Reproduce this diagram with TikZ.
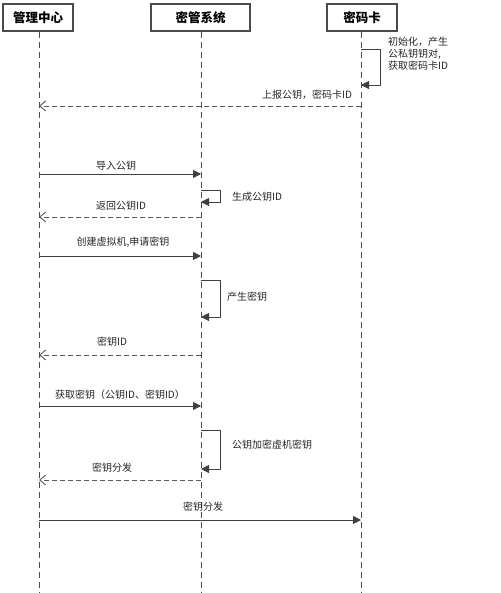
\documentclass[tikz,border=0pt]{standalone}
\usepackage{fontspec}
\setmainfont{Noto Sans CJK SC}
\usetikzlibrary{arrows.meta}
\begin{document}
\begin{tikzpicture}[x=1pt,y=-1pt,
  actor/.style={draw=black!70,line width=1.2pt,minimum height=27pt,inner sep=0pt,font=\fontsize{12.5}{14}\selectfont\bfseries},
  life/.style={draw=black!70,line width=0.9pt,dash pattern=on 6pt off 4pt},
  sync/.style={draw=black!75,line width=0.9pt,-{Triangle[length=8pt,width=8pt]}},
  reply/.style={draw=black!65,line width=0.9pt,dash pattern=on 5pt off 3pt,-{Straight Barb[length=6pt,width=10pt]}},
  lbl/.style={font=\fontsize{10}{12}\selectfont,text=black!85,inner sep=0pt},
  selfmsg/.style={draw=black!75,line width=0.9pt,-{Triangle[length=8pt,width=8pt]}}]
\useasboundingbox (0,0) rectangle (500,593);
\fill[white] (0,0) rectangle (500,593);
% actors
\node[actor,minimum width=70pt] (A) at (38,17.5) {管理中心};
\node[actor,minimum width=99pt] (B) at (200.5,17.5) {密管系统};
\node[actor,minimum width=70pt] (C) at (362,17.5) {密码卡};
\coordinate (Aend) at (39,593);
\coordinate (Bend) at (201,593);
\coordinate (Cend) at (361,593);
\draw[life] (A.south -| Aend) -- (Aend);
\draw[life] (B.south -| Bend) -- (Bend);
\draw[life] (C.south -| Cend) -- (Cend);
% self message on card
\coordinate (c1) at (361,49);
\coordinate (c2) at (361,85);
\draw[selfmsg] (c1) -- (380,49) -- (380,85) -- (c2);
\node[lbl,anchor=north west,align=left] (t1) at (388,37) {初始化，产生\\公私钥钥对,\\获取密码卡ID};
% report
\coordinate (r1) at (361,106);
\coordinate (r2) at (39,106);
\draw[reply] (r1) -- (r2);
\node[lbl] (t2) at (307,95) {上报公钥，密码卡ID};
% import
\coordinate (i1) at (39,174);
\coordinate (i2) at (201,174);
\draw[sync] (i1) -- (i2);
\node[lbl] (t3) at (116,166) {导入公钥};
% generate pubkey id
\coordinate (g1) at (201,190);
\coordinate (g2) at (201,202);
\draw[selfmsg] (g1) -- (220,190) -- (220,202) -- (g2);
\node[lbl,anchor=west] (t4) at (232,197) {生成公钥ID};
% return
\coordinate (re1) at (201,217);
\coordinate (re2) at (39,217);
\draw[reply] (re1) -- (re2);
\node[lbl] (t5) at (121,206) {返回公钥ID};
% create vm
\coordinate (v1) at (39,256);
\coordinate (v2) at (201,256);
\draw[sync] (v1) -- (v2);
\node[lbl] (t6) at (123,242) {创建虚拟机,申请密钥};
% generate key
\coordinate (k1) at (201,280);
\coordinate (k2) at (201,317);
\draw[selfmsg] (k1) -- (220,280) -- (220,317) -- (k2);
\node[lbl,anchor=west] (t7) at (227,297) {产生密钥};
% key id
\coordinate (d1) at (201,355);
\coordinate (d2) at (39,355);
\draw[reply] (d1) -- (d2);
\node[lbl] (t8) at (112,342) {密钥ID};
% get key
\coordinate (h1) at (39,406);
\coordinate (h2) at (201,406);
\draw[sync] (h1) -- (h2);
\node[lbl] (t9) at (120,395) {获取密钥（公钥ID、密钥ID）};
% encrypt
\coordinate (e1) at (201,430);
\coordinate (e2) at (201,469);
\draw[selfmsg] (e1) -- (220,430) -- (220,469) -- (e2);
\node[lbl,anchor=west] (t10) at (232,445) {公钥加密虚机密钥};
% distribute reply
\coordinate (f1) at (201,480);
\coordinate (f2) at (39,480);
\draw[reply] (f1) -- (f2);
\node[lbl] (t11) at (112,468) {密钥分发};
% distribute to card
\coordinate (s1) at (39,520);
\coordinate (s2) at (361,520);
\draw[sync] (s1) -- (s2);
\node[lbl] (t12) at (203,507) {密钥分发};
\end{tikzpicture}
\end{document}
